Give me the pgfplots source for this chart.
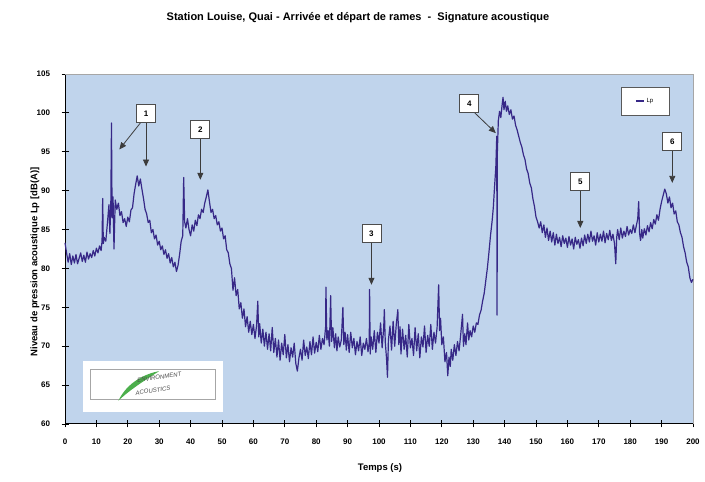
\documentclass[border=0pt]{standalone}
\usepackage{pgfplots}
\pgfplotsset{compat=1.18}
\usepackage{fontspec}
\setmainfont{Liberation Sans}
\usetikzlibrary{arrows.meta}
\definecolor{plotbg}{RGB}{192,212,236}
\definecolor{lpline}{RGB}{55,40,135}
\definecolor{annot}{RGB}{60,60,60}
\begin{document}
\begin{tikzpicture}[x=1pt,y=1pt]
\useasboundingbox (0,0) rectangle (705,482);
\node[font=\fontsize{11}{13}\selectfont\bfseries] at (358,464) {Station Louise, Quai - Arrivée et départ de rames \ - \ Signature acoustique};
\node[font=\fontsize{9.5}{11}\selectfont\bfseries] at (380,14) {Temps (s)};
\node[font=\fontsize{9.5}{11}\selectfont\bfseries,rotate=90] at (35,220) {Niveau de pression acoustique Lp [dB(A)]};
\begin{axis}[
  at={(65pt,58pt)}, anchor=south west,
  width=628pt, height=350pt, scale only axis,
  xmin=0, xmax=200, ymin=60, ymax=105,
  xtick={0,10,...,200}, ytick={60,65,...,105},
  axis lines=left,
  axis line style={-, black, line width=1pt},
  tick style={black, line width=0.8pt},
  tick align=center, major tick length=7pt,
  axis background/.style={fill=plotbg},
  ticklabel style={font=\fontsize{8}{9}\selectfont\bfseries},
  /pgf/number format/assume math mode=true,
  xticklabel shift=8pt, yticklabel shift=8pt,
  clip=false,
  legend style={at={(0.924,0.923)}, anchor=center, draw=gray!70!black, fill=white,
    font=\fontsize{6}{7}\selectfont, inner xsep=14pt, inner ysep=9pt},
  legend image code/.code={\draw[#1] (0pt,0pt) -- (8pt,0pt);},
]
\draw[gray!70] (rel axis cs:0,1) -- (rel axis cs:1,1) -- (rel axis cs:1,0);
\addplot[lpline, line width=1.2pt, line join=round] coordinates {
(0,83.3)(0.5,82.0)(1,80.8)(1.5,81.9)(2,80.5)(2.5,81.6)(3,80.7)(3.5,81.8)(4,80.6)(4.5,81.3)
(5,82.0)(5.5,80.9)(6,81.7)(6.5,80.8)(7,82.1)(7.5,81.2)(8,81.9)(8.5,81.4)(9,82.3)(9.5,81.6)
(10,82.6)(10.5,82.0)(11,82.9)(11.5,82.3)(11.8,83.5)(12,89.0)(12.2,83.2)(12.5,84.0)(13,83.5)(13.5,85.8)
(14,88.2)(14.3,84.5)(14.6,88.6)(14.8,98.7)(15.0,86.5)(15.3,89.2)(15.6,82.5)(16,88.8)(16.5,87.6)(17,88.4)
(17.5,86.8)(18,87.3)(18.5,85.9)(19,86.4)(19.5,85.4)(20,86.6)(20.5,86.0)(21,87.5)(21.5,87.8)(22,89.6)
(22.5,90.8)(23,91.9)(23.5,90.6)(24,91.5)(24.5,90.2)(25,89.0)(25.5,87.6)(26,87.0)(26.5,85.9)(27,86.2)
(27.5,84.6)(28,85.0)(28.5,83.8)(29,84.3)(29.5,83.0)(30,83.5)(30.5,82.4)(31,82.9)(31.5,81.8)(32,82.4)
(32.5,81.3)(33,81.9)(33.5,80.7)(34,81.4)(34.5,80.2)(35,80.8)(35.5,79.6)(36,80.4)(36.5,81.8)(37,83.5)
(37.5,84.2)(37.8,91.7)(38.1,86.0)(38.5,85.2)(39,86.4)(39.5,85.0)(40,84.2)(40.5,85.6)(41,84.8)(41.5,86.2)
(42,85.5)(42.5,86.9)(43,86.4)(43.5,87.6)(44,87.2)(44.5,88.4)(45,89.2)(45.5,90.1)(46,88.6)(46.5,87.2)
(47,87.6)(47.5,86.4)(48,86.8)(48.5,85.6)(49,86.0)(49.5,84.8)
(50,85.2)(50.5,83.8)(51,84.2)(51.5,82.4)(52,82.0)(52.5,80.6)(53,80.0)(53.5,77.2)(54,78.8)(54.5,76.5)
(55,77.3)(55.5,74.8)(56,75.6)(56.5,73.6)(57,74.8)(57.5,72.5)(58,73.8)(58.5,71.8)(59,73.2)(59.5,71.5)
(60,72.8)(60.5,71.0)(61,72.6)(61.4,75.8)(61.7,71.2)(62,72.9)(62.5,70.4)(63,72.2)(63.5,70.0)(64,71.8)
(64.5,69.6)(65,71.6)(65.5,69.4)(66,72.4)(66.5,69.2)(67,71.0)(67.5,68.6)(68,70.8)(68.5,68.2)(69,70.4)
(69.5,68.9)(70,71.5)(70.5,68.5)(71,70.2)(71.5,68.0)(72,69.8)(72.5,68.6)(73,70.4)(73.5,67.8)(74,66.8)
(74.5,68.5)(75,69.6)(75.5,68.2)(76,70.8)(76.5,68.8)(77,69.9)(77.5,68.4)(78,70.6)(78.5,68.9)(79,71.2)
(79.5,69.1)(80,70.5)(80.5,69.3)(81,71.4)(81.5,69.6)(82,71.0)(82.5,70.2)(83,72.5)(83.1,77.6)(83.4,70.8)
(83.8,72.0)(84.2,70.0)(84.6,76.5)(84.9,70.6)(85.3,72.4)(85.8,69.8)(86.2,71.6)(86.6,69.4)(87,71.2)(87.5,69.9)
(88,70.8)(88.5,75.0)(88.8,70.2)(89.2,71.8)(89.6,69.5)(90,71.5)(90.5,69.2)(91,71.8)(91.5,69.8)(92,71.0)
(92.5,68.9)(93,70.6)(93.5,69.4)(94,71.2)(94.5,68.8)(95,70.4)(95.5,69.6)(96,71.0)(96.5,69.3)(96.9,70.5)
(97.0,77.3)(97.2,69.0)(97.5,71.2)(98,69.6)(98.5,72.0)(99,69.2)(99.5,71.8)(100,70.4)(100.5,73.0)(101,69.8)
(101.5,72.4)(101.7,74.7)(102,70.5)(102.4,68.4)(102.7,66.0)(103,70.8)(103.5,72.6)(104,69.5)(104.5,73.2)(105,70.0)
(105.5,72.8)(106,74.7)(106.3,70.2)(106.7,72.5)(107,69.0)(107.5,72.2)(108,69.6)(108.5,71.4)(109,68.6)(109.5,72.8)
(110,69.8)(110.5,71.0)(111,68.8)(111.5,72.4)(112,69.4)(112.5,71.6)(113,68.5)(113.5,71.2)(114,69.9)(114.5,72.6)
(115,69.2)(115.5,71.4)(116,70.0)(116.5,72.8)(117,69.6)(117.5,71.8)(118,70.4)(118.5,72.4)(119,77.9)(119.3,72.0)
(119.6,73.6)(120,70.2)(120.5,71.2)(121,68.0)(121.5,69.2)(121.9,66.2)(122.3,68.6)(122.7,67.4)(123,69.6)(123.5,68.2)
(124,70.2)(124.5,68.8)(125,70.6)(125.5,69.4)(126,71.4)(126.6,74.1)(126.9,70.0)(127.3,71.6)(127.7,70.2)(128.2,73.0)
(128.6,70.8)(129,72.0)(129.5,71.2)(130,72.6)(130.5,71.8)(131,73.0)(131.5,72.8)(132,74.0)(132.5,74.6)(133,75.8)
(133.5,76.8)(134,78.4)(134.5,80.0)(135,82.0)(135.5,84.2)(136,86.0)(136.4,87.8)(136.8,90.5)(137.2,93.0)(137.5,97.0)
(137.6,74.0)(137.7,95.0)(138,99.0)(138.4,100.2)(138.8,99.4)(139.2,101.0)(139.5,102.0)(139.8,100.4)(140.2,101.5)(140.6,100.2)
(141,100.9)(141.5,99.8)(142,100.4)(142.5,99.2)(143,99.6)(143.5,98.4)(144,97.8)(144.5,97.0)(145,96.2)(145.5,95.6)
(146,94.6)(146.5,94.0)(147,92.8)(147.5,92.2)(148,91.0)(148.5,90.4)(149,89.0)(149.5,88.0)(150,86.6)(150.5,86.0)
(151,85.2)(151.5,86.0)(152,84.6)(152.5,85.6)(153,84.0)(153.5,85.2)(154,83.6)(154.5,84.8)(155,83.4)(155.5,84.6)
(156,83.0)(156.5,84.4)(157,83.2)(157.5,84.0)(158,82.8)(158.5,84.2)(159,83.2)(159.5,83.9)(160,82.7)(160.5,84.1)
(161,83.0)(161.5,83.8)(162,82.5)(162.5,84.0)(163,83.1)(163.5,83.7)(164,82.6)(164.5,83.9)(165,82.9)(165.5,84.3)
(166,83.2)(166.5,84.4)(167,83.4)(167.5,84.8)(168,83.5)(168.5,84.2)(169,83.0)(169.5,84.6)(170,83.4)(170.5,84.4)
(171,83.5)(171.5,84.8)(172,83.3)(172.5,84.5)(173,83.7)(173.5,84.9)(174,83.6)(174.5,84.4)(175,83.2)(175.4,80.6)
(175.7,84.0)(176,85.0)(176.5,83.7)(177,85.2)(177.5,83.9)(178,84.8)(178.5,84.1)(179,85.4)(179.5,84.3)(180,85.0)
(180.5,84.5)(181,85.6)(181.5,84.6)(182,85.6)(182.4,86.4)(182.7,88.6)(183,84.5)(183.3,83.6)(183.7,85.0)(184,83.9)
(184.5,85.1)(185,84.3)(185.5,85.5)(186,84.7)(186.5,85.9)(187,85.1)(187.5,86.3)(188,85.7)(188.5,86.9)(189,86.2)
(189.5,87.6)(190,88.6)(190.5,89.4)(191,90.2)(191.5,89.6)(192,88.4)(192.5,89.2)(193,87.8)(193.5,88.4)(194,87.0)
(194.5,87.4)(195,86.0)(195.5,85.6)(196,84.6)(196.5,84.0)(197,82.8)(197.5,82.0)(198,80.8)(198.5,80.2)(199,78.8)
(199.5,78.2)(200,78.6)
};
\addlegendentry{Lp}
% annotations
\tikzset{lab/.style={draw=gray!60!black, line width=0.9pt, fill=white, minimum width=19pt, minimum height=18pt, inner sep=1pt, font=\fontsize{8}{9}\selectfont\bfseries},
  arr/.style={draw=annot, line width=0.8pt, -{Triangle[width=6pt,length=7pt]}}}
\draw[arr] (axis cs:24.0,98.7) -- (axis cs:17.3,95.3);
\draw[arr] (axis cs:25.8,98.7) -- (axis cs:25.8,93.1);
\node[lab] at (axis cs:25.8,99.9) {1};
\draw[arr] (axis cs:43.1,96.7) -- (axis cs:43.1,91.4);
\node[lab] at (axis cs:43.1,97.9) {2};
\draw[arr] (axis cs:97.6,83.3) -- (axis cs:97.6,77.9);
\node[lab] at (axis cs:97.6,84.5) {3};
\draw[arr] (axis cs:130.5,100.0) -- (axis cs:137.2,97.4);
\node[lab] at (axis cs:128.8,101.2) {4};
\draw[arr] (axis cs:164.1,90.0) -- (axis cs:164.1,85.2);
\node[lab] at (axis cs:164.1,91.2) {5};
\draw[arr] (axis cs:193.4,95.1) -- (axis cs:193.4,91.0);
\node[lab] at (axis cs:193.4,96.3) {6};
% logo
\fill[white] (axis cs:5.7,61.5) rectangle (axis cs:50.4,68.1);
\draw[gray!70, line width=0.5pt] (axis cs:7.9,63.2) rectangle (axis cs:47.9,67.05);
\fill[green!55!black!70] (axis cs:17,63.0) .. controls (axis cs:20,65.5) and (axis cs:26,66.5) .. (axis cs:30,66.8) .. controls (axis cs:25,65.5) and (axis cs:21,64.5) .. (axis cs:17,63.0);
\node[font=\fontsize{6}{6}\selectfont\itshape, text=gray!60!black, rotate=8] at (axis cs:30,66.0) {ENVIRONMENT};
\node[font=\fontsize{6}{6}\selectfont\itshape, text=gray!60!black, rotate=8] at (axis cs:28,64.3) {ACOUSTICS};
\end{axis}
\end{tikzpicture}
\end{document}
